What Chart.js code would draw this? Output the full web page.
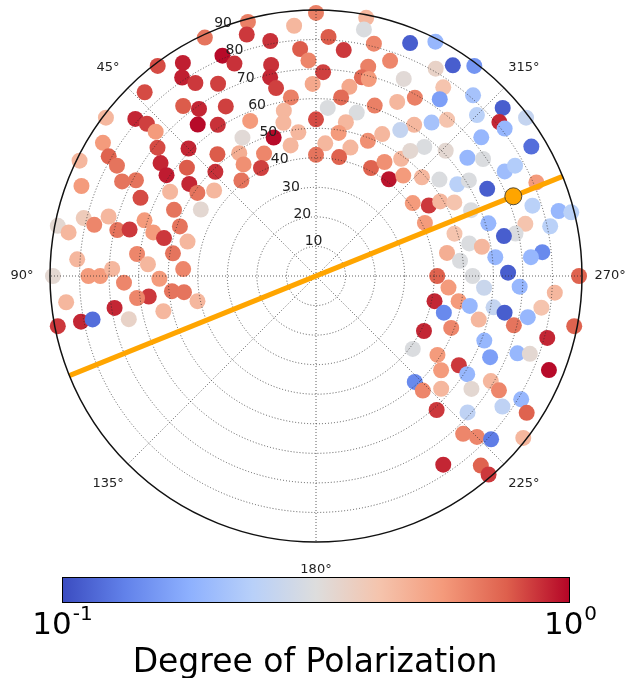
<!DOCTYPE html>
<html>
<head>
<meta charset="utf-8">
<script src="https://cdn.jsdelivr.net/npm/chart.js"></script>
<style>
  body { margin: 0; background: #fff; }
</style>
</head>
<body>
<canvas id="myChart" width="625" height="678"></canvas>
<script>
// sky samples: azimuth (deg, 0 at top, counter-clockwise), zenith angle (deg), degree of polarization
const azimuth = [
  37, 32, 34, 43, 38, 49, 48, 48, 53, 58, 51, 15, 5, 0, 25, 16, 11, 23, 21, 12,
  4, 2, 32, 27, 13, 12, 1, 8, 35, 28, 11, 12, 23, 38, 33, 28, 17, 7, 0, 349,
  349, 357, 346, 338, 333, 353, 341, 346, 358, 347, 345, 336, 330, 327, 350, 326, 352, 331, 325, 356,
  341, 335, 346, 349, 323, 320, 327, 330, 351, 335, 356, 339, 320, 323, 319, 315, 312, 307, 310, 308,
  310, 301, 60, 64, 61, 54, 56, 64, 62, 69, 60, 66, 65, 76, 74, 77, 79, 80, 77, 76,
  72, 70, 75, 76, 83, 81, 86, 86, 90, 90, 88, 90, 91, 87, 45, 11, 39, 32, 23, 0,
  50, 33, 44, 27, 54, 38, 55, 50, 60, 75, 345, 349, 333, 329, 324, 323, 314, 323, 319, 313,
  308, 307, 302, 301, 296, 280, 270, 308, 305, 299, 299, 303, 302, 297, 293, 298, 293, 288, 285, 284,
  287, 284, 287, 282, 282, 282, 282, 280, 276, 276, 275, 276, 271, 270, 270, 92, 96, 97, 96, 97,
  97, 99, 103, 103, 101, 101, 101, 102, 265, 266, 267, 266, 258, 260, 259, 260, 259, 262, 254, 259,
  255, 256, 249, 259, 243, 255, 249, 233, 237, 245, 249, 250, 238, 233, 237, 248, 223, 223, 228, 234,
  239, 238, 239, 222, 228, 235, 237, 223, 225, 227, 232, 214, 221, 221
];
const zenith = [
  89, 85, 81, 85, 73, 81, 77, 73, 89, 85, 69, 89, 85, 89, 89, 85, 81, 81, 77, 73,
  77, 73, 77, 73, 69, 65, 65, 61, 69, 65, 57, 53, 57, 65, 61, 53, 49, 49, 53, 89,
  85, 81, 81, 85, 89, 77, 77, 73, 69, 69, 69, 73, 81, 85, 65, 77, 61, 69, 73, 57,
  61, 65, 57, 53, 65, 69, 61, 57, 49, 53, 45, 49, 57, 89, 81, 77, 85, 89, 81, 81,
  73, 85, 81, 89, 77, 65, 61, 73, 69, 85, 57, 65, 53, 81, 73, 77, 89, 85, 69, 65,
  61, 49, 57, 53, 61, 49, 81, 57, 77, 73, 69, 89, 53, 45, 61, 45, 53, 49, 45, 41,
  57, 45, 49, 41, 53, 41, 49, 45, 45, 45, 45, 41, 41, 45, 49, 53, 61, 41, 45, 49,
  53, 41, 45, 49, 41, 45, 41, 65, 69, 73, 77, 57, 61, 65, 81, 53, 57, 77, 85, 89,
  61, 73, 49, 69, 81, 65, 53, 57, 77, 61, 73, 49, 65, 53, 89, 65, 49, 45, 85, 57,
  61, 69, 53, 65, 81, 77, 89, 41, 45, 57, 69, 81, 41, 49, 53, 61, 65, 77, 45, 73,
  57, 69, 49, 89, 41, 81, 61, 41, 49, 65, 73, 77, 57, 53, 61, 85, 49, 53, 57, 65,
  69, 73, 81, 61, 69, 77, 85, 73, 77, 81, 89, 77, 85, 89
];
const polarization = [
  0.8, 0.92, 0.92, 0.8, 0.76, 0.9, 0.83, 0.56, 0.46, 0.56, 0.8, 0.64, 0.46, 0.64, 0.68, 0.85, 0.87, 0.98, 0.87, 0.87,
  0.76, 0.62, 0.85, 0.83, 0.9, 0.83, 0.51, 0.64, 0.9, 0.83, 0.46, 0.46, 0.56, 0.98, 0.87, 0.33, 0.98, 0.46, 0.8, 0.46,
  0.31, 0.76, 0.62, 0.11, 0.19, 0.85, 0.62, 0.64, 0.83, 0.71, 0.56, 0.33, 0.36, 0.11, 0.51, 0.42, 0.71, 0.64, 0.16, 0.31,
  0.64, 0.46, 0.31, 0.46, 0.21, 0.42, 0.46, 0.26, 0.56, 0.46, 0.46, 0.59, 0.31, 0.15, 0.21, 0.24, 0.11, 0.26, 0.9, 0.19,
  0.19, 0.12, 0.74, 0.46, 0.68, 0.9, 0.93, 0.68, 0.68, 0.56, 0.46, 0.8, 0.68, 0.39, 0.46, 0.62, 0.34, 0.46, 0.68, 0.85,
  0.56, 0.68, 0.56, 0.85, 0.62, 0.68, 0.46, 0.46, 0.56, 0.56, 0.46, 0.34, 0.56, 0.62, 0.9, 0.46, 0.76, 0.49, 0.62, 0.68,
  0.76, 0.59, 0.87, 0.83, 0.9, 0.68, 0.68, 0.46, 0.34, 0.46, 0.46, 0.74, 0.74, 0.59, 0.46, 0.34, 0.34, 0.95, 0.56, 0.46,
  0.31, 0.56, 0.85, 0.46, 0.56, 0.49, 0.74, 0.19, 0.31, 0.2, 0.23, 0.24, 0.31, 0.11, 0.56, 0.42, 0.31, 0.24, 0.19, 0.24,
  0.19, 0.42, 0.42, 0.31, 0.24, 0.11, 0.31, 0.46, 0.14, 0.19, 0.19, 0.31, 0.11, 0.31, 0.74, 0.62, 0.68, 0.68, 0.46, 0.85,
  0.62, 0.9, 0.46, 0.36, 0.9, 0.12, 0.85, 0.46, 0.56, 0.27, 0.19, 0.46, 0.9, 0.56, 0.19, 0.26, 0.11, 0.42, 0.14, 0.19,
  0.46, 0.68, 0.62, 0.74, 0.9, 0.9, 0.19, 0.31, 0.56, 0.16, 0.19, 0.34, 0.85, 0.56, 0.19, 0.98, 0.14, 0.62, 0.46, 0.34,
  0.46, 0.62, 0.19, 0.85, 0.25, 0.25, 0.74, 0.62, 0.62, 0.13, 0.46, 0.9, 0.74, 0.85
];

// sun marker and the line through it
const sunAz = 292;
const sunZen = 72;
const lineAz = [292, 112];
const lineZen = [90, 90];

// axes
const rTicks = [10, 20, 30, 40, 50, 60, 70, 80, 90];
const thetaTicks = [0, 45, 90, 135, 180, 225, 270, 315];
const rMax = 90;
const cbarMin = 0.1;
const cbarMax = 1;

// matplotlib coolwarm, sampled every 1/8
const coolwarm = [
  [59, 76, 192], [98, 130, 234], [141, 176, 254], [184, 208, 249], [221, 221, 221],
  [245, 196, 173], [244, 154, 123], [222, 96, 77], [180, 4, 38]
];

function cmap(v) {
  let t = (Math.log10(v) - Math.log10(cbarMin)) / (Math.log10(cbarMax) - Math.log10(cbarMin));
  t = Math.max(0, Math.min(1, t)) * (coolwarm.length - 1);
  const i = Math.min(Math.floor(t), coolwarm.length - 2);
  const f = t - i;
  const a = coolwarm[i], b = coolwarm[i + 1];
  const c = a.map((x, k) => Math.round(x + (b[k] - x) * f));
  return 'rgb(' + c.join(',') + ')';
}

function toXY(az, zen) {
  const a = az * Math.PI / 180;
  return { x: -zen * Math.sin(a), y: zen * Math.cos(a) };
}

const points = azimuth.map((a, i) => toXY(a, zenith[i]));
const colors = polarization.map(cmap);

const polarGrid = {
  id: 'polarGrid',
  afterDatasetDraw(chart, args) {
    if (args.index !== 2) return;
    const ctx = chart.ctx;
    const xs = chart.scales.x, ys = chart.scales.y;
    const cx = xs.getPixelForValue(0), cy = ys.getPixelForValue(0);
    const k = xs.getPixelForValue(1) - cx;
    ctx.save();
    ctx.strokeStyle = 'rgba(40,40,40,0.75)';
    ctx.lineWidth = 1;
    ctx.setLineDash([1, 2]);
    rTicks.forEach(r => {
      if (r >= rMax) return;
      ctx.beginPath();
      ctx.arc(cx, cy, r * k, 0, Math.PI * 2);
      ctx.stroke();
    });
    thetaTicks.forEach(t => {
      const p = toXY(t, rMax);
      ctx.beginPath();
      ctx.moveTo(cx, cy);
      ctx.lineTo(xs.getPixelForValue(p.x), ys.getPixelForValue(p.y));
      ctx.stroke();
    });
    ctx.setLineDash([]);
    ctx.fillStyle = '#222';
    ctx.font = '14px "DejaVu Sans"';
    ctx.textAlign = 'left';
    ctx.textBaseline = 'bottom';
    rTicks.forEach(r => {
      const p = toXY(22.5, r);
      ctx.fillText(String(r), xs.getPixelForValue(p.x), ys.getPixelForValue(p.y));
    });
    ctx.restore();
  },
  afterDraw(chart) {
    const ctx = chart.ctx;
    const xs = chart.scales.x, ys = chart.scales.y;
    const cx = xs.getPixelForValue(0), cy = ys.getPixelForValue(0);
    const k = xs.getPixelForValue(1) - cx;
    ctx.save();
    // outer circle
    ctx.strokeStyle = '#111';
    ctx.lineWidth = 1.5;
    ctx.beginPath();
    ctx.arc(cx, cy, rMax * k, 0, Math.PI * 2);
    ctx.stroke();
    // angle labels
    ctx.fillStyle = '#222';
    ctx.font = '13px "DejaVu Sans"';
    ctx.textAlign = 'center';
    ctx.textBaseline = 'middle';
    thetaTicks.forEach(t => {
      const p = toXY(t, rMax + 9.5);
      ctx.fillText(t + '\u00b0', xs.getPixelForValue(p.x), ys.getPixelForValue(p.y));
    });
    // colorbar
    const bx = 62, bw = 508, by = 577, bh = 26;
    const g = ctx.createLinearGradient(bx, 0, bx + bw, 0);
    coolwarm.forEach((c, i) => g.addColorStop(i / (coolwarm.length - 1), 'rgb(' + c.join(',') + ')'));
    ctx.fillStyle = g;
    ctx.fillRect(bx, by, bw, bh);
    ctx.strokeStyle = '#000';
    ctx.lineWidth = 1;
    ctx.strokeRect(bx + 0.5, by + 0.5, bw - 1, bh - 1);
    ctx.fillStyle = '#000';
    ctx.textBaseline = 'alphabetic';
    function powLabel(x, exp) {
      ctx.font = '31px "DejaVu Sans"';
      const w1 = ctx.measureText('10').width;
      ctx.font = '20px "DejaVu Sans"';
      const w2 = ctx.measureText(exp).width;
      const left = x - (w1 + w2) / 2;
      ctx.textAlign = 'left';
      ctx.font = '31px "DejaVu Sans"';
      ctx.fillText('10', left, 634);
      ctx.font = '20px "DejaVu Sans"';
      ctx.fillText(exp, left + w1 + 1, 620);
    }
    powLabel(bx, '-1');
    powLabel(bx + bw, '0');
    ctx.textAlign = 'center';
    ctx.font = '33px "DejaVu Sans"';
    ctx.fillText('Degree of Polarization', 315, 672);
    ctx.restore();
  }
};

new Chart(document.getElementById('myChart'), {
  type: 'scatter',
  data: {
    datasets: [
      {
        data: [toXY(sunAz, sunZen)],
        pointRadius: 8.5,
        pointBackgroundColor: '#FFA500',
        pointBorderColor: 'rgba(70,60,40,0.9)',
        pointBorderWidth: 1,
        clip: false
      },
      {
        data: lineAz.map((a, i) => toXY(a, lineZen[i])),
        showLine: true,
        borderColor: '#FFA500',
        borderWidth: 5,
        pointRadius: 0,
        clip: false
      },
      {
        data: points,
        pointRadius: 8,
        pointBackgroundColor: colors,
        pointBorderWidth: 0,
        clip: false
      }
    ]
  },
  options: {
    responsive: false,
    animation: false,
    events: [],
    layout: { padding: { left: 50, right: 43, top: 10, bottom: 136 } },
    scales: {
      x: { type: 'linear', min: -rMax, max: rMax, display: false },
      y: { type: 'linear', min: -rMax, max: rMax, display: false }
    },
    plugins: { legend: { display: false }, tooltip: { enabled: false } }
  },
  plugins: [polarGrid]
});
</script>
</body>
</html>
